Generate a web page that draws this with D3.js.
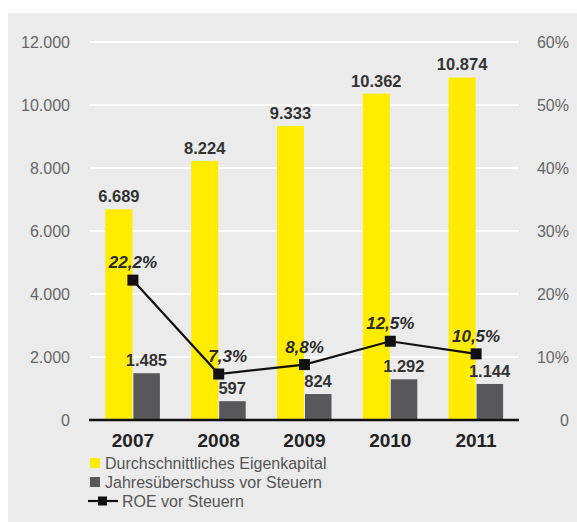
<!DOCTYPE html>
<html>
<head>
<meta charset="utf-8">
<script src="https://cdn.jsdelivr.net/npm/d3@7"></script>
<style>
  html, body { margin: 0; padding: 0; background: #fff; }
  svg { display: block; font-family: "Liberation Sans", Arial, Helvetica, sans-serif; }
</style>
</head>
<body>
<svg id="chart" width="577" height="522"></svg>
<script>
// Jahreswerte (Eigenkapital und Überschuss in Tsd., ROE als Anteil)
const years = ["2007", "2008", "2009", "2010", "2011"];
const eigenkapital = [6689, 8224, 9333, 10362, 10874];
const ueberschuss = [1485, 597, 824, 1292, 1144];
const roe = [0.222, 0.073, 0.088, 0.125, 0.105];
const leftTicks = [0, 2000, 4000, 6000, 8000, 10000, 12000];
const rightTicks = [0, 0.1, 0.2, 0.3, 0.4, 0.5, 0.6];
const legendLabels = ["Durchschnittliches Eigenkapital", "Jahresüberschuss vor Steuern", "ROE vor Steuern"];

const YELLOW = "#ffec00";
const GREY = "#58585a";

const svg = d3.select("#chart");

// Grauer Hintergrund
svg.append("rect").attr("x", 8).attr("y", 13).attr("width", 569).attr("height", 509).attr("fill", "#ebebeb");

const x = d3.scaleBand().domain(years).range([90, 519]).padding(0);
const yL = d3.scaleLinear().domain([0, 12000]).range([420, 42]);
const yR = d3.scaleLinear().domain([0, 0.6]).range([420, 42]);

const fmtDE = d3.formatLocale({ decimal: ",", thousands: ".", grouping: [3], currency: ["", " €"] });
const fmtInt = fmtDE.format(",d");
const fmtPct = v => fmtDE.format(".1f")(v * 100) + "%";

// Gitterlinien
svg.append("g").selectAll("line").data(leftTicks.filter(d => d > 0)).join("line")
  .attr("x1", 90).attr("x2", 519)
  .attr("y1", d => yL(d)).attr("y2", d => yL(d))
  .attr("stroke", "#fff").attr("stroke-width", 2);

// Linke Achse
const axL = svg.append("g").attr("transform", "translate(70,0)")
  .call(d3.axisLeft(yL).tickValues(leftTicks).tickSize(0).tickPadding(0).tickFormat(d => fmtInt(d)));
axL.select(".domain").remove();
axL.selectAll("text").attr("font-size", 16).attr("fill", "#666").attr("font-family", "Liberation Sans, Arial, sans-serif");

// Rechte Achse
const axR = svg.append("g").attr("transform", "translate(569,0)")
  .call(d3.axisLeft(yR).tickValues(rightTicks).tickSize(0).tickPadding(0).tickFormat(d => d === 0 ? "0" : Math.round(d * 100) + "%"));
axR.select(".domain").remove();
axR.selectAll("text").attr("font-size", 16).attr("fill", "#666").attr("font-family", "Liberation Sans, Arial, sans-serif");

const cx = d => x(d) + x.bandwidth() / 2;

// Balken: Eigenkapital
svg.append("g").selectAll("rect").data(years).join("rect")
  .attr("x", d => cx(d) - 27.5).attr("width", 27)
  .attr("y", (d, i) => yL(eigenkapital[i]))
  .attr("height", (d, i) => yL(0) - yL(eigenkapital[i]))
  .attr("fill", YELLOW);

// Balken: Jahresüberschuss
svg.append("g").selectAll("rect").data(years).join("rect")
  .attr("x", d => cx(d) + 0.5).attr("width", 26.5)
  .attr("y", (d, i) => yL(ueberschuss[i]))
  .attr("height", (d, i) => yL(0) - yL(ueberschuss[i]))
  .attr("fill", GREY);

// Werte über den Balken
svg.append("g").selectAll("text").data(years).join("text")
  .attr("x", d => cx(d) - 14).attr("y", (d, i) => yL(eigenkapital[i]) - 7)
  .attr("text-anchor", "middle").attr("font-size", 16.5).attr("font-weight", "bold").attr("fill", "#333")
  .text((d, i) => fmtInt(eigenkapital[i]));
svg.append("g").selectAll("text").data(years).join("text")
  .attr("x", d => cx(d) + 13.5).attr("y", (d, i) => yL(ueberschuss[i]) - 7)
  .attr("text-anchor", "middle").attr("font-size", 16.5).attr("font-weight", "bold").attr("fill", "#333")
  .text((d, i) => fmtInt(ueberschuss[i]));

// Nulllinie
svg.append("line").attr("x1", 89).attr("x2", 519).attr("y1", yL(0)).attr("y2", yL(0))
  .attr("stroke", "#111").attr("stroke-width", 2.5);

// Jahreszahlen
svg.append("g").selectAll("text").data(years).join("text")
  .attr("x", d => cx(d)).attr("y", 447)
  .attr("text-anchor", "middle").attr("font-size", 19).attr("font-weight", "bold").attr("fill", "#222")
  .text(d => d);

// ROE-Linie
const line = d3.line().x((d, i) => cx(years[i])).y(d => yR(d));
svg.append("path").datum(roe).attr("d", line)
  .attr("fill", "none").attr("stroke", "#111").attr("stroke-width", 2.2);
svg.append("g").selectAll("rect").data(roe).join("rect")
  .attr("x", (d, i) => cx(years[i]) - 5.5).attr("y", d => yR(d) - 5.5)
  .attr("width", 11).attr("height", 11).attr("fill", "#111");

// ROE-Beschriftung; nach einem Abfall leicht nach rechts versetzt, damit sie die Linie nicht berührt
svg.append("g").selectAll("text").data(roe).join("text")
  .attr("x", (d, i) => cx(years[i]) + (i > 0 && roe[i - 1] - d > 0.05 ? 9 : 0))
  .attr("y", d => yR(d) - 12)
  .attr("text-anchor", "middle").attr("font-size", 17).attr("font-weight", "bold").attr("font-style", "italic")
  .attr("fill", "#2a2a2a")
  .text(d => fmtPct(d));

// Legende
const lg = svg.append("g");
const rows = [463, 482, 501];
lg.append("rect").attr("x", 90).attr("y", rows[0] - 5).attr("width", 10).attr("height", 10).attr("fill", YELLOW);
lg.append("rect").attr("x", 90).attr("y", rows[1] - 5).attr("width", 10).attr("height", 10).attr("fill", GREY);
lg.append("line").attr("x1", 88).attr("x2", 118).attr("y1", rows[2]).attr("y2", rows[2]).attr("stroke", "#111").attr("stroke-width", 2.2);
lg.append("rect").attr("x", 98).attr("y", rows[2] - 4.5).attr("width", 9).attr("height", 9).attr("fill", "#111");
lg.selectAll("text").data(legendLabels).join("text")
  .attr("x", (d, i) => i < 2 ? 105 : 122).attr("y", (d, i) => rows[i])
  .attr("dy", "0.35em").attr("font-size", 16).attr("fill", "#555")
  .text(d => d);
</script>
</body>
</html>
